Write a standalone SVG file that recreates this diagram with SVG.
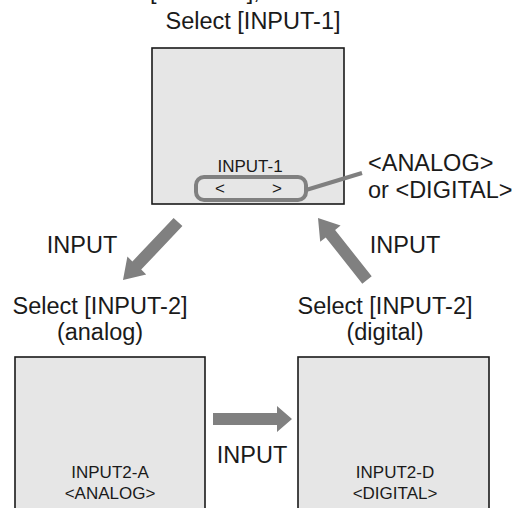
<svg xmlns="http://www.w3.org/2000/svg" width="526" height="508" viewBox="0 0 526 508">
<defs>
<style>
.t{font-family:"Liberation Sans",Arial,Helvetica,sans-serif;font-size:23.5px;fill:#1a1a1a}
.s{font-family:"Liberation Sans",Arial,Helvetica,sans-serif;font-size:17px;fill:#1a1a1a}
.box{fill:#e6e6e6;stroke:#1a1a1a;stroke-width:1.6}
.arr{fill:#808080;stroke:none}
.gl{fill:none;stroke:#808080;stroke-width:4}
</style>
</defs>
<rect width="526" height="508" fill="#ffffff"/>
<text class="t" x="150" y="-1">[INPUT-1],</text>
<g id="input1">
<text class="t" x="253" y="29" text-anchor="middle">Select [INPUT-1]</text>
<rect class="box" x="152" y="48" width="192" height="156"/>
<text class="s" x="250" y="172" text-anchor="middle">INPUT-1</text>
<rect class="gl" x="196" y="177" width="110" height="23" rx="8"/>
<text class="s" x="220" y="194" text-anchor="middle">&lt;</text>
<text class="s" x="277" y="194" text-anchor="middle">&gt;</text>
<line class="gl" x1="306" y1="190" x2="362" y2="173"/>
<text class="t" x="368" y="171">&lt;ANALOG&gt;</text>
<text class="t" x="368" y="198">or &lt;DIGITAL&gt;</text>
</g>
<g id="input2a">
<text class="t" x="100" y="314" text-anchor="middle">Select [INPUT-2]</text>
<text class="t" x="100" y="340" text-anchor="middle">(analog)</text>
<rect class="box" x="15" y="357" width="190" height="160"/>
<text class="s" x="110" y="478" text-anchor="middle">INPUT2-A</text>
<text class="s" x="110" y="499" text-anchor="middle">&lt;ANALOG&gt;</text>
</g>
<g id="input2d">
<text class="t" x="385" y="314" text-anchor="middle">Select [INPUT-2]</text>
<text class="t" x="385" y="340" text-anchor="middle">(digital)</text>
<rect class="box" x="298" y="357" width="191" height="160"/>
<text class="s" x="395" y="478" text-anchor="middle">INPUT2-D</text>
<text class="s" x="395" y="499" text-anchor="middle">&lt;DIGITAL&gt;</text>
</g>
<g id="connectors">
<polygon class="arr" points="182.4,226.1 173.6,217.9 132.4,261.4 127.4,256.6 123,280 146.2,274.4 141.2,269.6"/>
<text class="t" x="82" y="253" text-anchor="middle">INPUT</text>
<polygon class="arr" points="371.7,276.3 362.3,283.7 325.7,237.4 320.2,241.8 318,218 340.6,225.6 335.1,230"/>
<text class="t" x="405" y="253" text-anchor="middle">INPUT</text>
<polygon class="arr" points="213,413 277,413 277,406 292,419 277,432 277,425 213,425"/>
<text class="t" x="252" y="463" text-anchor="middle">INPUT</text>
</g>
</svg>
